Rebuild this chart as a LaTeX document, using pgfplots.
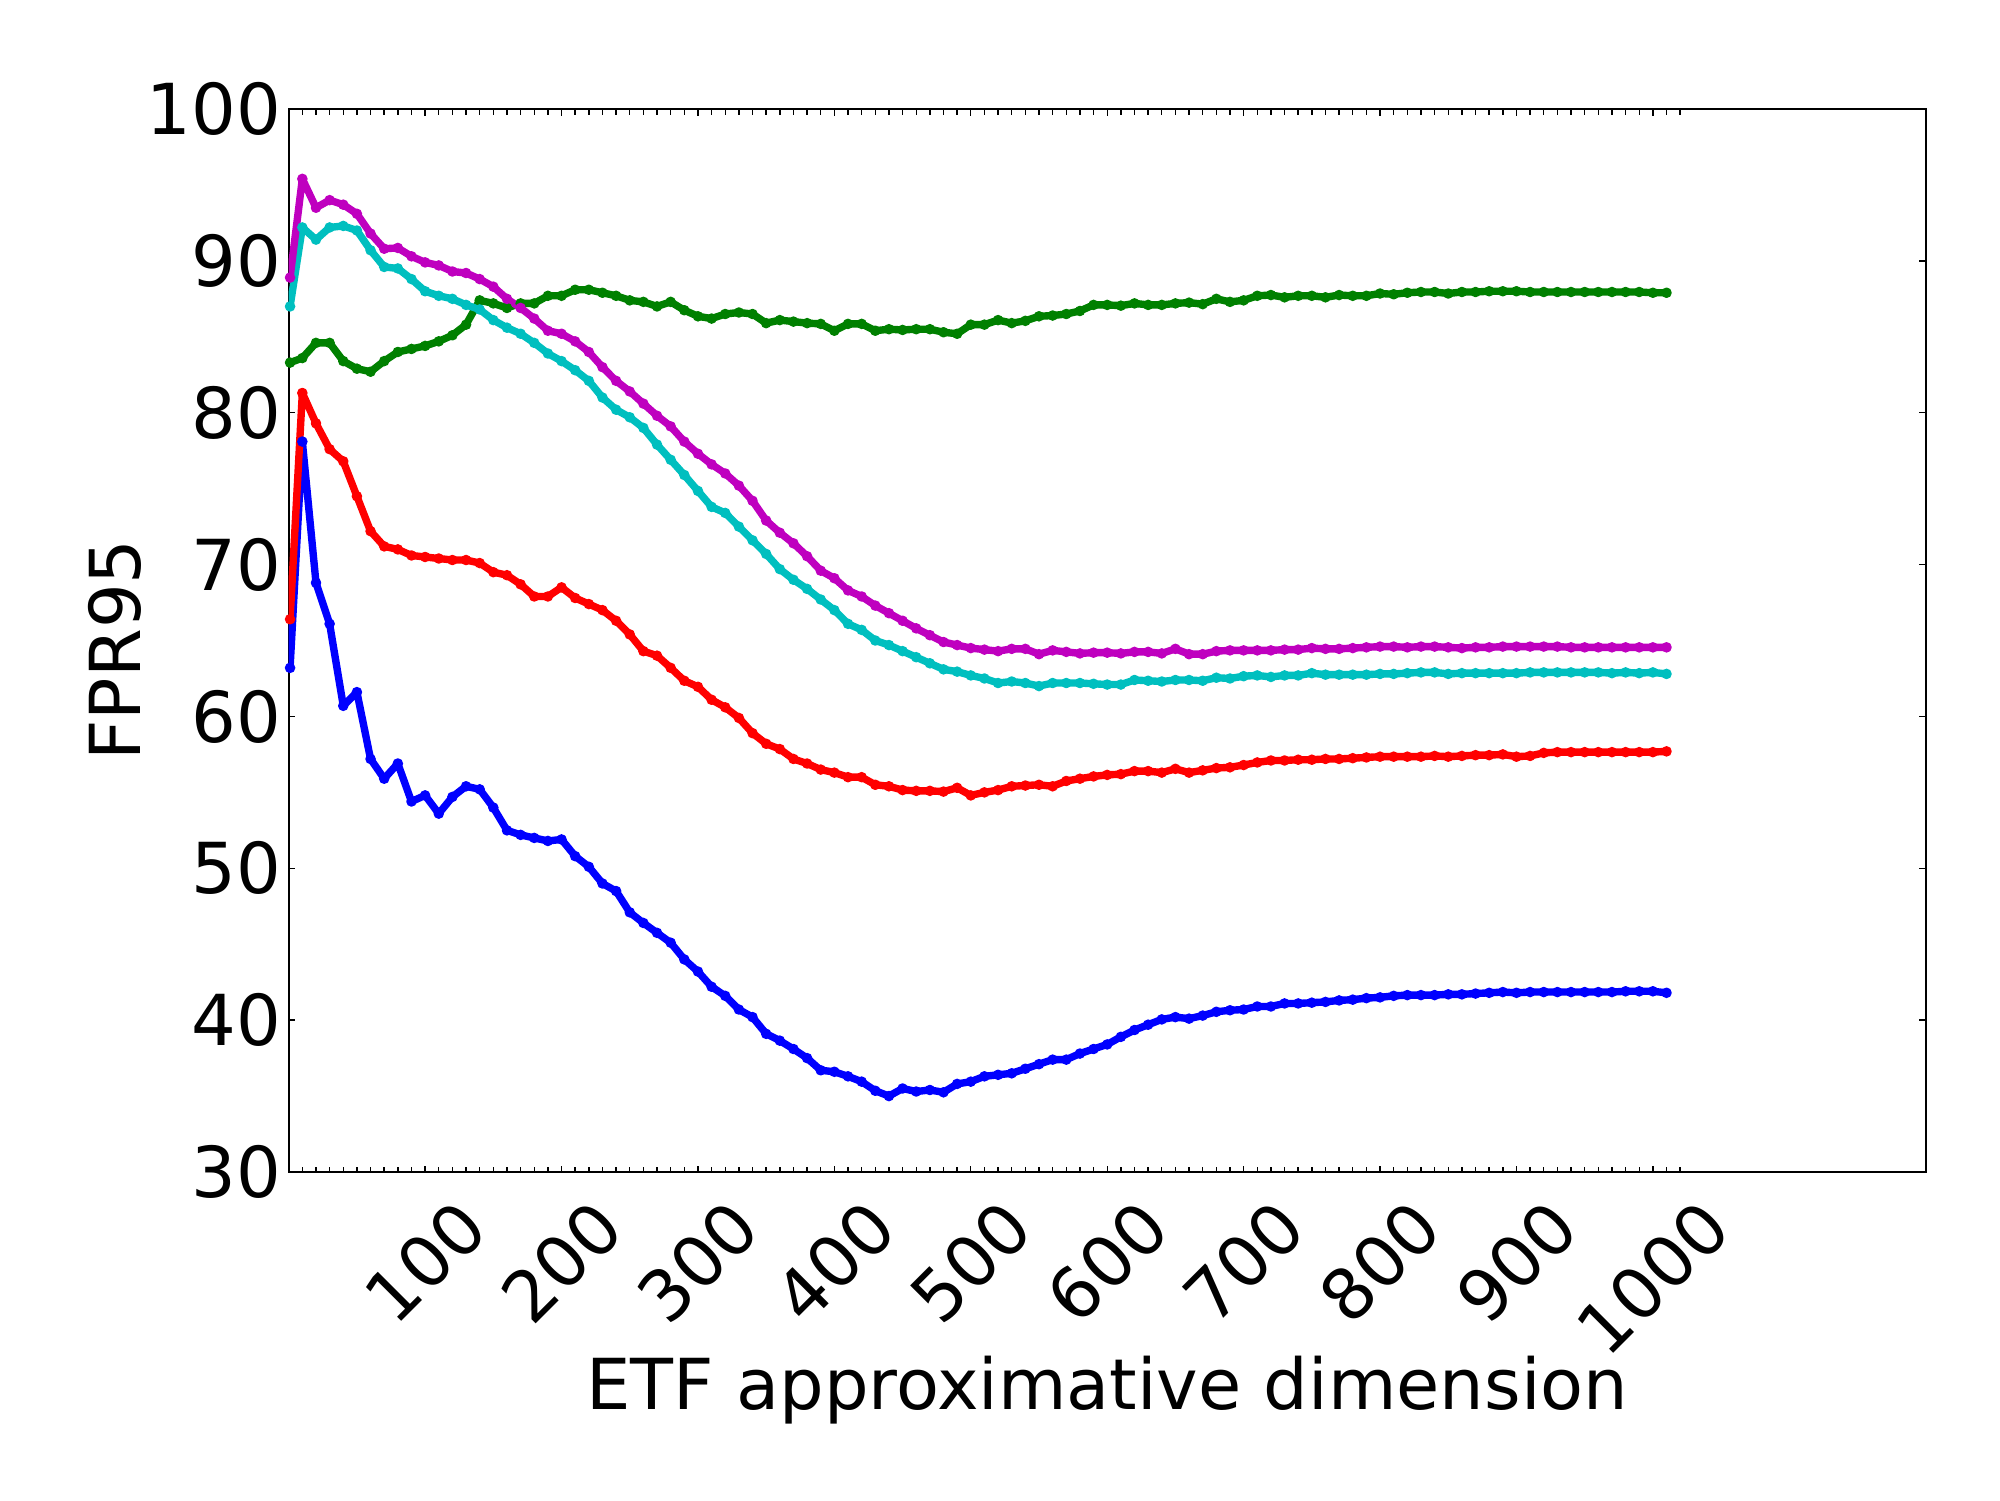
\documentclass[border=0pt]{standalone}
\usepackage{pgfplots}
\pgfplotsset{compat=1.18}
\usepackage{pgfplotstable}
\usepackage{graphicx}
\usepackage{fontspec}
\setmainfont{DejaVu Sans}
\definecolor{mb}{rgb}{0,0,1}
\definecolor{mg}{rgb}{0,0.5,0}
\definecolor{mr}{rgb}{1,0,0}
\definecolor{mc}{rgb}{0,0.75,0.75}
\definecolor{mm}{rgb}{0.75,0,0.75}

\pgfplotstableread{
x b g r c m
1 63.2 83.3 66.4 87.0 88.9
10 78.1 83.6 81.3 92.2 95.4
20 68.8 84.6 79.3 91.4 93.5
30 66.1 84.6 77.6 92.2 94.0
40 60.7 83.4 76.8 92.3 93.7
50 61.6 82.9 74.5 92.0 93.1
60 57.2 82.7 72.2 90.7 91.8
70 55.9 83.4 71.2 89.6 90.8
80 56.9 84.0 71.0 89.5 90.85
90 54.4 84.2 70.6 88.8 90.3
100 54.8 84.4 70.5 88.0 89.9
110 53.6 84.7 70.4 87.7 89.7
120 54.7 85.1 70.3 87.5 89.3
130 55.4 85.8 70.3 87.1 89.2
140 55.2 87.4 70.1 86.8 88.8
150 54.0 87.2 69.5 86.1 88.3
160 52.5 86.9 69.3 85.6 87.5
170 52.2 87.2 68.7 85.2 86.9
180 52.0 87.2 67.9 84.6 86.2
190 51.8 87.7 67.9 83.9 85.4
200 51.9 87.7 68.5 83.4 85.2
210 50.8 88.1 67.8 82.8 84.7
220 50.1 88.1 67.4 82.1 84.0
230 49.0 87.9 67.0 81.0 83.0
240 48.5 87.7 66.3 80.2 82.1
250 47.1 87.4 65.4 79.7 81.4
260 46.4 87.3 64.3 79.0 80.6
270 45.75 87.0 64.0 77.9 79.8
280 45.1 87.3 63.2 76.9 79.1
290 44.0 86.75 62.35 75.9 78.1
300 43.2 86.35 61.95 74.85 77.3
310 42.2 86.2 61.1 73.8 76.6
320 41.6 86.5 60.6 73.4 76.0
330 40.7 86.6 59.9 72.5 75.2
340 40.2 86.5 58.9 71.6 74.2
350 39.1 85.9 58.2 70.7 72.9
360 38.65 86.1 57.85 69.7 72.1
370 38.1 86.0 57.2 69.0 71.4
380 37.5 85.9 56.9 68.4 70.55
390 36.7 85.85 56.5 67.7 69.6
400 36.6 85.4 56.3 67.0 69.1
410 36.3 85.85 56.0 66.1 68.3
420 35.95 85.85 56.0 65.7 67.9
430 35.35 85.4 55.5 65.0 67.3
440 35.0 85.5 55.4 64.7 66.8
450 35.5 85.45 55.15 64.3 66.3
460 35.3 85.5 55.1 63.9 65.8
470 35.4 85.5 55.1 63.5 65.35
480 35.25 85.3 55.05 63.1 64.9
490 35.8 85.2 55.3 62.95 64.7
500 35.95 85.8 54.8 62.7 64.5
510 36.3 85.8 55.0 62.5 64.4
520 36.4 86.1 55.15 62.2 64.3
530 36.5 85.9 55.4 62.3 64.45
540 36.8 86.05 55.45 62.2 64.45
550 37.1 86.35 55.5 62.0 64.1
560 37.4 86.4 55.4 62.2 64.35
570 37.4 86.5 55.75 62.2 64.25
580 37.8 86.7 55.9 62.2 64.15
590 38.1 87.1 56.05 62.15 64.2
600 38.4 87.1 56.15 62.1 64.2
610 38.9 87.05 56.2 62.1 64.15
620 39.35 87.2 56.4 62.4 64.25
630 39.7 87.1 56.4 62.35 64.25
640 40.05 87.1 56.3 62.3 64.15
650 40.2 87.2 56.55 62.4 64.45
660 40.1 87.25 56.3 62.4 64.1
670 40.3 87.15 56.45 62.35 64.1
680 40.55 87.5 56.6 62.55 64.3
690 40.65 87.3 56.65 62.5 64.35
700 40.7 87.4 56.8 62.65 64.35
710 40.9 87.7 56.97 62.7 64.35
720 40.9 87.75 57.1 62.6 64.35
730 41.1 87.6 57.1 62.7 64.4
740 41.1 87.7 57.15 62.7 64.4
750 41.15 87.7 57.15 62.85 64.5
760 41.2 87.6 57.2 62.75 64.45
770 41.3 87.75 57.2 62.75 64.45
780 41.35 87.7 57.25 62.75 64.5
790 41.45 87.7 57.3 62.75 64.55
800 41.5 87.85 57.35 62.8 64.6
810 41.6 87.8 57.35 62.8 64.6
820 41.65 87.9 57.35 62.85 64.55
830 41.65 87.95 57.35 62.9 64.6
840 41.65 87.95 57.4 62.9 64.6
850 41.7 87.85 57.35 62.8 64.55
860 41.7 87.95 57.4 62.85 64.5
870 41.75 87.95 57.45 62.85 64.55
880 41.8 88.0 57.45 62.85 64.55
890 41.85 88.0 57.5 62.85 64.6
900 41.8 88.0 57.35 62.85 64.6
910 41.85 87.95 57.4 62.9 64.6
920 41.85 87.95 57.6 62.9 64.6
930 41.85 87.95 57.65 62.9 64.6
940 41.85 87.95 57.65 62.9 64.55
950 41.85 87.95 57.65 62.9 64.55
960 41.85 87.95 57.65 62.9 64.55
970 41.85 87.95 57.65 62.85 64.55
980 41.9 87.95 57.65 62.9 64.55
990 41.9 87.95 57.65 62.85 64.55
1000 41.9 87.9 57.65 62.9 64.55
1010 41.8 87.9 57.7 62.8 64.55
}\datatable

\begin{document}
\begin{tikzpicture}
\useasboundingbox (0,0) rectangle (20,15);
\begin{axis}[
  at={(2.887cm,3.28cm)}, anchor=south west,
  scale only axis, width=16.37cm, height=10.63cm,
  xmin=0, xmax=1200, ymin=30, ymax=100,
  xtick={100,200,...,1000},
  minor xtick={10,20,...,1020},
  xticklabels={\rotatebox{45}{100},\rotatebox{45}{200},\rotatebox{45}{300},\rotatebox{45}{400},\rotatebox{45}{500},\rotatebox{45}{600},\rotatebox{45}{700},\rotatebox{45}{800},\rotatebox{45}{900},\rotatebox{45}{1000}},
  ytick={30,40,...,100},
  tick align=inside, tick pos=both,
  major tick length=0.065cm, minor tick length=0.055cm,
  tick style={black, line width=0.4pt},
  axis line style={line width=0.5pt},
  font=\fontsize{20}{24}\selectfont,
  ticklabel style={font=\fontsize{20}{24}\selectfont},
  /pgf/number format/assume math mode=true,
  xticklabel style={anchor=north, inner sep=0pt, yshift=-0.23cm},
  yticklabel style={anchor=east, inner sep=0pt, xshift=-0.07cm},
  xlabel={ETF approximative dimension}, ylabel={FPR95},
  xlabel style={at={(axis description cs:0.5,-0.223)}, anchor=base, inner sep=0pt},
  ylabel style={at={(axis description cs:-0.0908,0.491)}, anchor=base, inner sep=0pt},
  every axis plot/.append style={line width=2.1pt, line join=round, mark=*, mark size=1.3pt, mark options={line width=0.4pt, solid}},
]
\addplot[color=mb] table[x=x,y=b]{\datatable};
\addplot[color=mg] table[x=x,y=g]{\datatable};
\addplot[color=mr] table[x=x,y=r]{\datatable};
\addplot[color=mc] table[x=x,y=c]{\datatable};
\addplot[color=mm] table[x=x,y=m]{\datatable};
\end{axis}
\end{tikzpicture}
\end{document}
